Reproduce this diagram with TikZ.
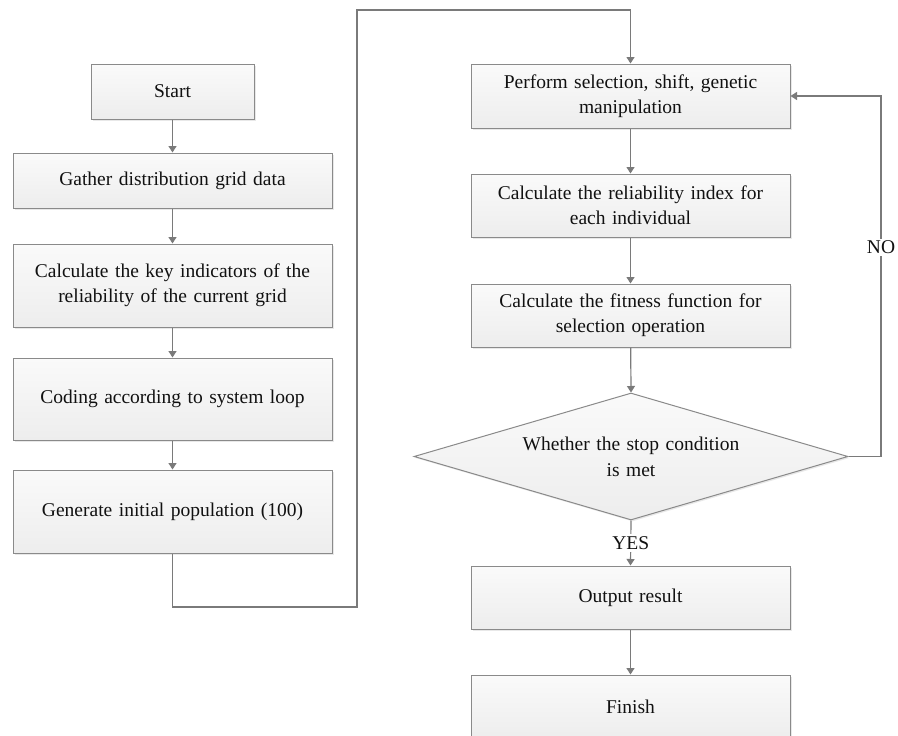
\documentclass[tikz,border=0pt]{standalone}
\usepackage{fontspec}
\setmainfont{Liberation Serif}
\usetikzlibrary{shapes.geometric,arrows.meta,shadows}
\definecolor{edgegray}{HTML}{7A7A7A}
\definecolor{boxline}{HTML}{8A8A8A}
\definecolor{boxtop}{HTML}{FAFAFA}
\definecolor{boxbot}{HTML}{EDEDED}
\definecolor{txt}{HTML}{111111}
\tikzset{
  flowbox/.style={draw=boxline, line width=1pt, top color=boxtop, bottom color=boxbot,
    drop shadow={shadow xshift=1.5pt, shadow yshift=-1.5pt, opacity=0.18},
    text=txt, align=center, inner sep=0pt, text width=312pt,
    font=\fontsize{19.5}{25}\selectfont},
  decision/.style={diamond, draw=boxline, line width=1pt, top color=boxtop, bottom color=boxbot,
    drop shadow={shadow xshift=1.5pt, shadow yshift=-1.5pt, opacity=0.18},
    text=txt, align=center, inner sep=0pt, text width=260pt, aspect=3.4,
    minimum width=434pt, minimum height=127pt,
    font=\fontsize{19.5}{26}\selectfont},
  flowline/.style={draw=edgegray, line width=1.2pt},
  flowarrow/.style={flowline, -{Triangle[length=6.5pt,width=8pt]}},
  edgelabel/.style={fill=white, text=txt, inner sep=2pt, font=\fontsize{19.5}{22}\selectfont},
}
\begin{document}
\begin{tikzpicture}[x=1pt,y=-1pt]
  \useasboundingbox[fill=white] (0,0) rectangle (898,736);

  % left column
  \node[flowbox, minimum width=163pt, minimum height=55pt, text width=150pt] (start) at (172.5,91.5) {Start};
  \node[flowbox, minimum width=319pt, minimum height=55pt] (gather) at (172.5,180.5) {Gather distribution grid data};
  \node[flowbox, minimum width=319pt, minimum height=83pt] (keyind) at (172.5,285.5) {Calculate the key indicators of the\\reliability of the current grid};
  \node[flowbox, minimum width=319pt, minimum height=82pt] (coding) at (172.5,399) {Coding according to system loop};
  \node[flowbox, minimum width=319pt, minimum height=83pt] (initpop) at (172.5,511.5) {Generate initial population (100)};

  % right column
  \node[flowbox, minimum width=319pt, minimum height=64pt] (perform) at (630.5,96) {Perform selection, shift, genetic\\manipulation};
  \node[flowbox, minimum width=319pt, minimum height=63pt] (relidx) at (630.5,205.5) {Calculate the reliability index for\\each individual};
  \node[flowbox, minimum width=319pt, minimum height=63pt] (fitness) at (630.5,315.5) {Calculate the fitness function for\\selection operation};
  \node[decision] (stopq) at (631,456.5) {Whether the stop condition\\is met};
  \node[flowbox, minimum width=319pt, minimum height=63pt] (output) at (630.5,597.5) {Output result};
  \node[flowbox, minimum width=319pt, minimum height=64pt] (finish) at (630.5,707) {Finish};

  % routing points
  \coordinate (lowturn) at (357,607);
  \coordinate (topturn) at (357,10);
  \coordinate (loopbot) at (881,456.5);
  \coordinate (looptop) at (881,96);

  % connectors
  \draw[flowarrow] (start) -- (gather);
  \draw[flowarrow] (gather) -- (keyind);
  \draw[flowarrow] (keyind) -- (coding);
  \draw[flowarrow] (coding) -- (initpop);
  \draw[flowarrow] (initpop.south) |- (lowturn) -- (topturn) -| (perform.north);
  \draw[flowarrow] (perform) -- (relidx);
  \draw[flowarrow] (relidx) -- (fitness);
  \draw[flowarrow] (fitness) -- (stopq.north);
  \draw[flowarrow] (stopq.south) -- node[edgelabel] (yeslbl) {YES} (output.north);
  \draw[flowarrow] (output) -- (finish);
  \draw[flowarrow] (stopq.east) -- (loopbot) -- node[edgelabel, pos=0.58] (nolbl) {NO} (looptop) -- (perform.east);
\end{tikzpicture}
\end{document}
